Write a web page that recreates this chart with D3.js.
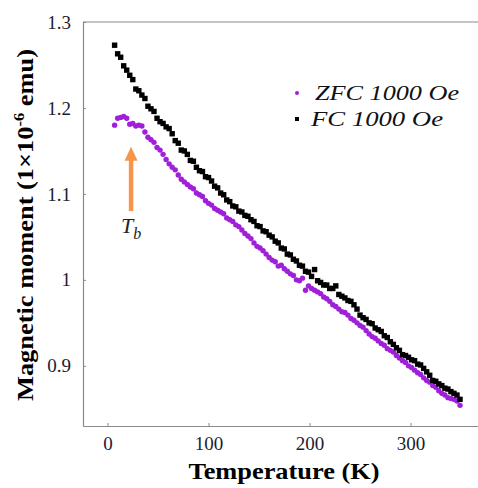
<!DOCTYPE html>
<html>
<head>
<meta charset="utf-8">
<script src="https://cdn.jsdelivr.net/npm/d3@7/dist/d3.min.js"></script>
<style>
  html, body { margin: 0; padding: 0; background: #fff; }
  svg { display: block; }
</style>
</head>
<body>
<svg id="chart" width="478" height="488"></svg>
<script>
// ---- data ----
const temperature = [
  7,10,13,16,19,22,25,28,31,34,
  37,40,43,46,49,52,55,58,61,64,
  67,70,73,76,79,82,85,88,91,94,
  97,100,103,106,109,112,115,118,121,124,
  127,130,133,136,139,142,145,148,151,154,
  157,160,163,166,169,172,175,178,181,184,
  187,190,193,196,199,202,205,208,211,214,
  217,220,223,226,229,232,235,238,241,244,
  247,250,253,256,259,262,265,268,271,274,
  277,280,283,286,289,292,295,298,301,304,
  307,310,313,316,319,322,325,328,331,334,
  337,340,343,346,349
];
const momentFC = [
  1.273,1.263,1.259,1.249,1.244,1.238,1.233,1.222,1.220,1.215,
  1.211,1.202,1.199,1.196,1.188,1.184,1.182,1.178,1.176,1.170,
  1.162,1.159,1.151,1.150,1.146,1.139,1.138,1.131,1.127,1.126,
  1.120,1.119,1.115,1.109,1.107,1.101,1.099,1.093,1.091,1.086,
  1.085,1.080,1.079,1.075,1.074,1.070,1.068,1.063,1.062,1.057,
  1.056,1.052,1.050,1.045,1.043,1.037,1.036,1.030,1.029,1.024,
  1.022,1.017,1.016,1.010,1.009,1.004,1.012,0.999,0.997,0.994,
  0.994,0.990,0.990,0.993,0.983,0.981,0.979,0.976,0.975,0.971,
  0.966,0.959,0.956,0.954,0.950,0.949,0.944,0.942,0.940,0.935,
  0.933,0.928,0.925,0.921,0.918,0.913,0.912,0.910,0.907,0.906,
  0.902,0.901,0.897,0.893,0.889,0.883,0.882,0.879,0.877,0.874,
  0.873,0.870,0.868,0.866,0.861
];
const momentZFC = [
  1.180,1.188,1.189,1.190,1.188,1.181,1.182,1.179,1.180,1.179,
  1.172,1.166,1.163,1.160,1.154,1.151,1.146,1.140,1.135,1.131,
  1.128,1.122,1.117,1.114,1.111,1.108,1.106,1.101,1.099,1.097,
  1.092,1.089,1.087,1.083,1.081,1.079,1.077,1.072,1.070,1.068,
  1.064,1.062,1.058,1.054,1.051,1.048,1.043,1.039,1.037,1.034,
  1.030,1.026,1.023,1.021,1.016,1.017,1.013,1.010,1.007,1.005,
  1.000,0.999,1.002,0.988,0.993,0.990,0.988,0.986,0.984,0.980,
  0.978,0.975,0.971,0.969,0.966,0.963,0.962,0.959,0.955,0.953,
  0.950,0.947,0.945,0.941,0.937,0.934,0.932,0.929,0.926,0.924,
  0.920,0.918,0.916,0.912,0.909,0.906,0.904,0.900,0.898,0.895,
  0.892,0.890,0.886,0.883,0.881,0.877,0.875,0.871,0.868,0.866,
  0.863,0.862,0.861,0.859,0.854
];
const xTicks = [0, 100, 200, 300];
const yTicks = [0.9, 1.0, 1.1, 1.2, 1.3];
const yTickLabels = ["0.9", "1", "1.1", "1.2", "1.3"];
const legendLabels = ["ZFC 1000 Oe", "FC 1000 Oe"];
const blockingTemp = 23.3;            // T_b marker position (K)
const blockingArrow = [1.080, 1.155]; // arrow tail / tip (moment)

// ---- layout ----
const svg = d3.select("#chart");
const plotLeft = 83, plotRight = 478, plotTop = 22, plotBottom = 426;
const x = d3.scaleLinear().domain([-24.3, 366.8]).range([plotLeft, plotRight]);
const y = d3.scaleLinear().domain([0.83, 1.3]).range([plotBottom, plotTop]);

const serif = "'Liberation Serif', 'Times New Roman', Times, serif";
const axisColor = "#8a8a8a";
const purple = "#a01fd8";
const orange = "#f7964a";

// top frame line
svg.append("line")
  .attr("x1", plotLeft).attr("x2", plotRight).attr("y1", plotTop).attr("y2", plotTop)
  .attr("stroke", axisColor).attr("stroke-width", 1.2);

// x axis
const gx = svg.append("g").attr("transform", `translate(0,${plotBottom})`)
  .call(d3.axisBottom(x).tickValues(xTicks).tickSizeInner(-3).tickSizeOuter(0).tickPadding(11));
// y axis
const gy = svg.append("g").attr("transform", `translate(${plotLeft},0)`)
  .call(d3.axisLeft(y).tickValues(yTicks).tickSizeInner(-3).tickSizeOuter(0).tickPadding(12)
    .tickFormat((d, i) => yTickLabels[i]));

[gx, gy].forEach(g => {
  g.select(".domain").attr("stroke", axisColor).attr("stroke-width", 1.2);
  g.selectAll(".tick line").attr("stroke", axisColor).attr("stroke-width", 1);
  g.selectAll(".tick text").attr("font-family", serif).attr("font-size", 19).attr("fill", "#1c1c30");
});

// data marks
svg.append("g").selectAll("circle")
  .data(temperature.map((t, i) => [t, momentZFC[i]]))
  .join("circle")
  .attr("cx", d => x(d[0])).attr("cy", d => y(d[1])).attr("r", 2.7)
  .attr("fill", purple);

svg.append("g").selectAll("rect")
  .data(temperature.map((t, i) => [t, momentFC[i]]))
  .join("rect")
  .attr("x", d => x(d[0]) - 2.7).attr("y", d => y(d[1]) - 2.7)
  .attr("width", 5.4).attr("height", 5.4)
  .attr("fill", "#000");

// arrow for T_b
const ax = x(blockingTemp);
const aTop = y(blockingArrow[1]), aBot = y(blockingArrow[0]);
svg.append("line")
  .attr("x1", ax).attr("x2", ax).attr("y1", aTop + 12).attr("y2", aBot)
  .attr("stroke", orange).attr("stroke-width", 4.5);
svg.append("path")
  .attr("d", `M${ax},${aTop} L${ax - 6.5},${aTop + 14} L${ax + 6.5},${aTop + 14} Z`)
  .attr("fill", orange);

const tb = svg.append("text")
  .attr("x", ax - 10).attr("y", aBot + 22)
  .attr("font-family", serif).attr("font-style", "italic").attr("font-size", 22)
  .attr("fill", "#222");
tb.append("tspan").text("T");
tb.append("tspan").attr("dy", 6).attr("font-size", 16).text("b");

// legend
svg.append("circle").attr("cx", 297).attr("cy", 93).attr("r", 2).attr("fill", purple);
svg.append("rect").attr("x", 295).attr("y", 117).attr("width", 4).attr("height", 4).attr("fill", "#000");
svg.append("text").attr("x", 315).attr("y", 100)
  .attr("font-family", serif).attr("font-style", "italic").attr("font-size", 21)
  .attr("textLength", 144).attr("lengthAdjust", "spacingAndGlyphs")
  .attr("fill", "#111").text(legendLabels[0]);
svg.append("text").attr("x", 311).attr("y", 126)
  .attr("font-family", serif).attr("font-style", "italic").attr("font-size", 21)
  .attr("textLength", 132).attr("lengthAdjust", "spacingAndGlyphs")
  .attr("fill", "#111").text(legendLabels[1]);

// axis titles
svg.append("text")
  .attr("x", 284).attr("y", 479)
  .attr("text-anchor", "middle")
  .attr("font-family", serif).attr("font-weight", "bold").attr("font-size", 23)
  .attr("textLength", 191).attr("lengthAdjust", "spacingAndGlyphs")
  .attr("fill", "#000").text("Temperature (K)");

const yt = svg.append("text")
  .attr("transform", "translate(33,225) rotate(-90)")
  .attr("text-anchor", "middle")
  .attr("font-family", serif).attr("font-weight", "bold").attr("font-size", 24)
  .attr("textLength", 352).attr("lengthAdjust", "spacingAndGlyphs")
  .attr("fill", "#000");
yt.append("tspan").text("Magnetic moment (1×10");
yt.append("tspan").attr("dy", -9).attr("font-size", 15).text("-6");
yt.append("tspan").attr("dy", 9).text(" emu)");
</script>
</body>
</html>
